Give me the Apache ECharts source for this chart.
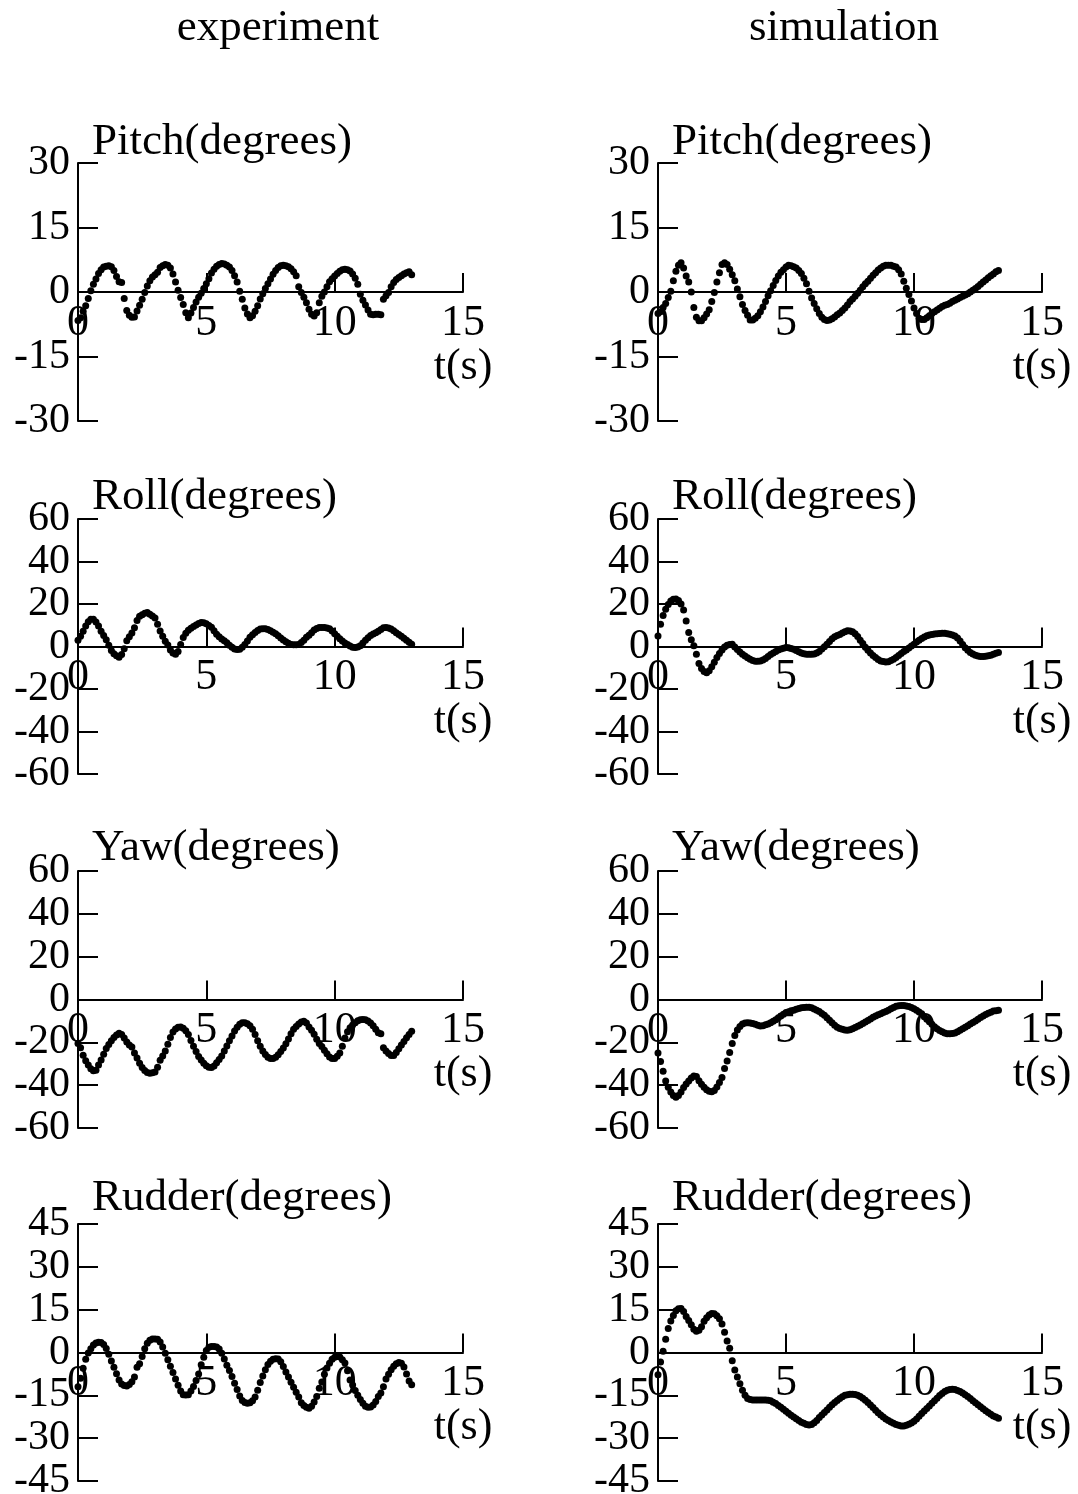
<!DOCTYPE html>
<html>
<head>
<meta charset="utf-8">
<script src="https://cdn.jsdelivr.net/npm/echarts@6/dist/echarts.min.js"></script>
<style>
  html, body { margin: 0; padding: 0; background: #ffffff; }
  #chart { width: 1078px; height: 1494px; }
</style>
</head>
<body>
<div id="chart"></div>
<script>
// Samples are recorded every SAMPLE_DT seconds, starting at t = 0.
const SAMPLE_DT = 0.1;

// ---- experiment (t = 0 .. 13.0 s) ----
const pitchExp = [
  -6.6, -6.0, -4.5, -3.2, -1.5, 0.3, 1.8, 3.0, 4.3, 5.2,
  5.8, 6.0, 6.1, 5.9, 5.0, 3.6, 2.4, 2.2, -1.5, -4.3,
  -5.4, -5.9, -5.8, -4.4, -3.1, -1.7, -0.1, 1.4, 2.6, 3.5,
  4.0, 4.6, 5.7, 6.1, 6.4, 6.2, 5.6, 4.2, 2.3, 0.4,
  -1.3, -2.9, -4.8, -6.0, -4.9, -3.6, -2.3, -1.2, -0.3, 0.8,
  1.9, 3.1, 4.4, 5.3, 6.0, 6.4, 6.6, 6.5, 6.2, 5.8,
  5.0, 3.8, 2.3, 0.2, -1.7, -3.7, -5.1, -6.0, -5.5, -4.5,
  -3.2, -1.6, -0.4, 0.8, 1.9, 3.0, 4.1, 5.0, 5.7, 6.1,
  6.2, 6.1, 5.9, 5.4, 4.7, 3.8, 1.2, -0.1, -1.2, -2.5,
  -4.0, -5.2, -5.6, -4.8, -2.5, -1.0, 0.0, 1.2, 2.4, 3.1,
  3.7, 4.3, 4.8, 5.2, 5.3, 5.2, 4.9, 4.2, 3.2, 1.8,
  -0.5, -1.9, -3.0, -4.2, -5.2, -5.3, -5.2, -5.2, -5.3, -1.7,
  -0.9, -0.1, 1.2, 2.2, 2.9, 3.4, 3.8, 4.2, 4.5, 4.7,
  4.0
];
const rollExp = [
  3.0, 4.8, 7.2, 9.6, 11.6, 12.8, 12.8, 11.5, 9.6, 7.2,
  5.2, 3.2, 0.6, -1.9, -3.4, -4.3, -5.0, -3.8, -1.0, 2.7,
  4.6, 6.3, 8.8, 12.2, 14.2, 15.0, 15.6, 16.0, 15.2, 14.3,
  13.4, 10.5, 7.3, 4.8, 2.5, 0.7, -1.6, -3.0, -3.6, -2.4,
  1.0, 4.2, 6.2, 7.6, 8.6, 9.4, 10.1, 10.8, 11.3, 11.2,
  10.7, 9.9, 9.1, 7.4, 5.8, 4.6, 3.5, 2.7, 1.8, 0.6,
  -0.4, -1.2, -1.4, -1.3, -0.3, 0.9, 2.6, 4.3, 5.5, 6.6,
  7.5, 8.2, 8.4, 8.3, 8.0, 7.4, 6.7, 6.0, 5.1, 4.0,
  3.1, 2.2, 1.5, 1.0, 0.8, 0.8, 1.0, 1.9, 3.0, 4.3,
  5.3, 6.5, 7.8, 8.5, 8.9, 9.0, 9.0, 8.7, 8.3, 7.3,
  6.0, 4.8, 3.6, 2.6, 1.7, 0.9, 0.2, -0.4, -0.5, -0.2,
  0.4, 1.7, 2.9, 4.1, 5.2, 5.9, 6.5, 7.2, 8.0, 8.8,
  9.0, 8.7, 8.2, 7.4, 6.5, 5.6, 4.8, 3.9, 3.0, 2.0,
  1.1
];
const yawExp = [
  -20.5, -22.5, -26.0, -28.6, -30.6, -32.3, -33.3, -33.0, -30.6, -28.2,
  -25.6, -22.9, -21.0, -19.3, -17.8, -16.6, -15.8, -16.3, -18.0, -19.9,
  -21.3, -22.2, -25.0, -27.3, -29.8, -31.8, -33.2, -34.1, -34.4, -34.2,
  -33.8, -31.6, -28.4, -26.4, -24.0, -20.9, -17.7, -15.2, -13.8, -13.0,
  -12.8, -13.4, -14.6, -16.3, -19.2, -21.8, -24.3, -26.6, -28.3, -29.8,
  -30.9, -31.6, -31.8, -31.0, -29.5, -28.0, -26.4, -24.0, -21.7, -19.3,
  -17.0, -14.7, -12.9, -11.6, -10.9, -10.8, -11.3, -12.3, -13.9, -16.3,
  -19.3, -21.8, -24.1, -25.7, -27.0, -27.6, -27.5, -27.0, -25.8, -24.3,
  -22.7, -20.7, -18.5, -16.0, -13.9, -12.6, -11.4, -10.5, -10.1, -11.0,
  -12.8, -14.4, -16.2, -18.6, -20.5, -22.0, -23.7, -25.3, -26.9, -27.5,
  -27.6, -26.5, -25.0, -21.8, -18.0, -15.0, -13.2, -11.9, -10.8, -9.9,
  -9.5, -9.3, -9.5, -10.0, -11.0, -12.3, -13.9, -15.5, -16.0, -22.5,
  -24.0, -25.2, -26.1, -26.2, -24.8, -23.0, -21.2, -19.6, -17.9, -16.3,
  -14.8
];
const rudderExp = [
  -12.0, -9.0, -5.5, -2.4, -0.2, 1.3, 2.6, 3.3, 3.6, 3.5,
  2.8, 1.4, -0.6, -3.0, -5.2, -7.4, -9.6, -11.0, -11.6, -11.7,
  -11.2, -10.2, -8.6, -5.2, -3.9, -1.4, 1.3, 3.2, 4.3, 4.7,
  4.7, 4.6, 3.7, 1.9, -0.3, -2.5, -4.8, -7.0, -9.3, -11.5,
  -13.5, -14.8, -14.9, -14.8, -13.5, -11.9, -9.8, -7.5, -4.3, -1.7,
  0.7, 1.8, 2.1, 2.1, 1.9, 1.2, -0.3, -2.3, -4.5, -6.3,
  -8.4, -10.8, -13.0, -15.2, -16.8, -17.5, -17.8, -17.6, -16.9, -15.6,
  -13.2, -10.5, -8.2, -6.0, -4.2, -3.1, -2.4, -2.2, -2.3, -3.2,
  -4.9, -6.8, -8.6, -10.4, -12.2, -13.9, -15.6, -17.6, -18.6, -19.2,
  -19.5, -18.8, -17.3, -15.4, -12.5, -10.3, -7.6, -5.4, -3.8, -2.4,
  -1.7, -1.4, -1.6, -2.5, -3.7, -6.4, -9.6, -11.4, -13.3, -15.0,
  -16.5, -17.8, -18.8, -19.2, -19.1, -18.4, -17.2, -15.4, -14.2, -12.0,
  -9.3, -7.6, -6.0, -4.8, -3.9, -3.5, -3.8, -5.1, -7.5, -10.0,
  -11.3
];

// ---- simulation (t = 0 .. 13.3 s) ----
const pitchSim = [
  -5.0, -4.6, -3.6, -2.7, -1.3, 0.2, 2.6, 4.8, 6.2, 6.8,
  5.6, 3.7, 2.3, 0.0, -3.6, -5.9, -6.7, -6.7, -6.0, -5.1,
  -4.1, -2.2, -0.1, 2.3, 4.5, 6.4, 6.8, 6.4, 5.3, 4.0,
  2.6, 0.7, -1.1, -2.9, -4.3, -5.4, -6.5, -6.5, -6.1, -5.5,
  -4.6, -3.5, -2.2, -0.9, 0.3, 1.5, 2.7, 3.7, 4.6, 5.2,
  5.8, 6.2, 6.1, 5.9, 5.6, 5.0, 4.3, 3.2, 1.9, 0.2,
  -1.4, -2.7, -3.9, -5.0, -5.9, -6.4, -6.6, -6.5, -6.2, -5.8,
  -5.3, -4.9, -4.3, -3.7, -3.0, -2.2, -1.6, -1.0, -0.3, 0.4,
  1.2, 1.9, 2.5, 3.2, 3.9, 4.5, 5.1, 5.6, 6.0, 6.2,
  6.2, 6.2, 6.0, 5.8, 5.2, 4.2, 2.5, 0.9, -0.6, -2.1,
  -3.7, -5.0, -6.1, -6.4, -6.4, -6.0, -5.5, -5.0, -4.6, -4.2,
  -3.8, -3.4, -3.1, -2.9, -2.6, -2.2, -1.9, -1.6, -1.3, -1.0,
  -0.7, -0.4, 0.0, 0.4, 0.8, 1.3, 1.8, 2.3, 2.8, 3.3,
  3.8, 4.2, 4.7, 5.0
];
const rollSim = [
  5.0, 10.5, 14.6, 17.5, 19.8, 21.4, 22.2, 22.4, 21.7, 20.0,
  17.2, 12.0, 6.6, 3.2, 0.3, -3.6, -8.0, -10.4, -11.8, -12.3,
  -11.4, -9.5, -7.4, -5.2, -3.3, -1.6, -0.2, 0.6, 1.0, 1.1,
  -0.2, -1.4, -2.6, -3.6, -4.5, -5.3, -6.0, -6.6, -6.9, -6.9,
  -6.8, -6.3, -5.6, -4.7, -3.8, -3.0, -2.3, -1.7, -1.2, -0.8,
  -0.5, -0.6, -0.9, -1.3, -1.9, -2.5, -3.0, -3.4, -3.6, -3.7,
  -3.7, -3.5, -3.0, -2.3, -1.2, -0.1, 1.1, 2.4, 3.6, 4.6,
  5.2, 5.7, 6.3, 7.0, 7.4, 7.3, 7.0, 6.0, 4.7, 3.0,
  1.4, -0.3, -1.8, -3.0, -4.2, -5.2, -6.1, -6.8, -7.1, -7.3,
  -7.2, -6.6, -6.0, -5.2, -4.2, -3.3, -2.4, -1.6, -0.7, 0.2,
  1.1, 2.1, 3.0, 3.8, 4.5, 5.1, 5.4, 5.7, 5.9, 6.0,
  6.1, 6.2, 6.2, 6.0, 5.8, 5.4, 4.9, 4.0, 2.6, 1.0,
  -0.6, -1.8, -2.8, -3.5, -4.1, -4.5, -4.7, -4.7, -4.6, -4.4,
  -4.1, -3.7, -3.2, -2.8
];
const yawSim = [
  -25.0, -29.0, -33.5, -38.0, -41.0, -43.2, -44.8, -45.7, -44.8, -43.2,
  -41.1, -39.4, -38.0, -36.6, -35.7, -36.0, -37.9, -39.6, -41.0, -42.1,
  -42.8, -43.1, -42.5, -40.9, -38.8, -36.4, -32.2, -28.7, -24.8, -20.5,
  -16.8, -14.2, -12.6, -11.4, -11.0, -10.9, -11.0, -11.2, -11.5, -12.0,
  -12.4, -12.2, -11.8, -11.4, -10.8, -10.2, -9.4, -8.5, -7.7, -6.9,
  -6.1, -5.7, -5.3, -5.0, -4.6, -4.2, -3.9, -3.7, -3.6, -3.6,
  -3.9, -4.4, -5.0, -5.6, -6.5, -7.4, -8.5, -9.7, -10.9, -12.0,
  -12.9, -13.5, -13.9, -14.2, -14.3, -14.1, -13.7, -13.1, -12.5, -11.9,
  -11.2, -10.5, -9.8, -9.1, -8.3, -7.7, -7.1, -6.6, -6.1, -5.6,
  -5.0, -4.3, -3.7, -3.2, -2.9, -2.8, -2.8, -3.0, -3.3, -3.7,
  -4.3, -5.0, -5.8, -6.7, -8.0, -9.2, -10.4, -11.6, -12.7, -13.6,
  -14.5, -15.1, -15.6, -16.0, -16.0, -15.9, -15.6, -15.0, -14.4, -13.7,
  -12.9, -12.2, -11.4, -10.7, -10.0, -9.2, -8.4, -7.7, -7.0, -6.4,
  -5.9, -5.4, -5.2, -5.0
];
const rudderSim = [
  -7.8, -3.3, 0.4, 4.6, 8.4, 11.0, 13.0, 14.6, 15.3, 15.4,
  14.4, 12.6, 11.2, 9.7, 8.1, 7.4, 7.8, 9.0, 10.9, 12.2,
  13.1, 13.7, 13.6, 12.9, 11.8, 10.0, 7.1, 4.0, 1.5, -2.9,
  -6.1, -8.6, -10.9, -13.2, -15.0, -16.1, -16.5, -16.6, -16.6, -16.6,
  -16.6, -16.6, -16.6, -16.7, -16.9, -17.4, -17.9, -18.6, -19.2, -19.9,
  -20.6, -21.3, -22.0, -22.6, -23.2, -23.8, -24.4, -24.8, -25.2, -25.4,
  -25.2, -24.6, -23.8, -22.8, -21.9, -21.0, -20.1, -19.2, -18.3, -17.5,
  -16.8, -16.1, -15.5, -15.0, -14.8, -14.6, -14.6, -14.7, -15.0, -15.4,
  -16.0, -16.7, -17.5, -18.4, -19.3, -20.2, -21.1, -21.9, -22.6, -23.3,
  -23.8, -24.3, -24.8, -25.2, -25.5, -25.7, -25.7, -25.5, -25.1, -24.7,
  -24.1, -23.3, -22.3, -21.4, -20.5, -19.6, -18.7, -17.8, -16.9, -16.0,
  -15.1, -14.4, -13.7, -13.2, -13.0, -12.9, -13.0, -13.3, -13.7, -14.2,
  -14.8, -15.4, -16.1, -16.9, -17.6, -18.3, -19.0, -19.7, -20.4, -21.0,
  -21.6, -22.2, -22.6, -23.0
];

// ---- labels and axis ticks ----
const columnTitles = ['experiment', 'simulation'];
const panelNames = ['Pitch(degrees)', 'Roll(degrees)', 'Yaw(degrees)', 'Rudder(degrees)'];
const timeTicks = [0, 15, 5];             // min, max, step (s)
const timeUnit = 't(s)';
const valueTicks = [                       // min, max, step per row
  [-30, 30, 15],
  [-60, 60, 20],
  [-60, 60, 20],
  [-45, 45, 15]
];
const seriesGrid = [
  [pitchExp, pitchSim],
  [rollExp, rollSim],
  [yawExp, yawSim],
  [rudderExp, rudderSim]
];

// ---- layout ----
const FONT_FAMILY = '"Liberation Serif", "Times New Roman", serif';
const TEXT_SIZE = 45;     // column titles and panel names
const X_TICK_SIZE = 44;   // time tick labels
const Y_TICK_SIZE = 42;   // value tick labels (kept below the tick spacing)
const colLeft = [78, 658];
const colWidth = [385, 384];
const titleCenterX = [278, 844];
const titleBaseline = 43;
const rowTop = [163, 519, 871, 1224];
const rowHeight = [258, 255, 257, 257];
const nameBaseline = [157, 512, 863, 1213];
const MIDDLE_TO_BASELINE = 15;

const ink = '#000000';
const grids = [], xAxes = [], yAxes = [], series = [];
const graphics = [];

for (let c = 0; c < 2; c++) {
  graphics.push({
    type: 'text', x: titleCenterX[c], y: titleBaseline - MIDDLE_TO_BASELINE,
    style: {
      text: columnTitles[c], fill: ink,
      font: TEXT_SIZE + 'px ' + FONT_FAMILY,
      align: 'center', verticalAlign: 'middle'
    }
  });
}

for (let r = 0; r < 4; r++) {
  const vt = valueTicks[r];
  // the time axis sits on the zero line of the value axis
  const zeroLift = rowHeight[r] * (0 - vt[0]) / (vt[1] - vt[0]);
  for (let c = 0; c < 2; c++) {
    const i = grids.length;
    grids.push({
      left: colLeft[c], top: rowTop[r], width: colWidth[c], height: rowHeight[r],
      containLabel: false, outerBoundsMode: 'none'
    });
    xAxes.push({
      type: 'value', gridIndex: i, position: 'bottom', offset: -zeroLift,
      min: timeTicks[0], max: timeTicks[1], interval: timeTicks[2],
      axisLine: { show: true, onZero: false, lineStyle: { color: ink, width: 2 } },
      axisTick: { show: true, inside: true, length: 19, lineStyle: { color: ink, width: 2 } },
      axisLabel: {
        margin: 9, color: ink, fontFamily: FONT_FAMILY, fontSize: X_TICK_SIZE, lineHeight: 44,
        showMinLabel: true, showMaxLabel: true, hideOverlap: false,
        formatter: v => (v === timeTicks[1] ? v + '\n' + timeUnit : String(v))
      },
      splitLine: { show: false }
    });
    yAxes.push({
      type: 'value', gridIndex: i, position: 'left',
      min: vt[0], max: vt[1], interval: vt[2],
      axisLine: { show: true, onZero: false, lineStyle: { color: ink, width: 2 } },
      axisTick: { show: true, inside: true, length: 20, lineStyle: { color: ink, width: 2 } },
      axisLabel: {
        margin: 8, color: ink, fontFamily: FONT_FAMILY, fontSize: Y_TICK_SIZE,
        showMinLabel: true, showMaxLabel: true, hideOverlap: false
      },
      splitLine: { show: false }
    });
    const values = seriesGrid[r][c];
    series.push({
      type: 'scatter', name: panelNames[r] + ' ' + columnTitles[c],
      xAxisIndex: i, yAxisIndex: i,
      data: values.map((v, k) => [Math.round(k * SAMPLE_DT * 100) / 100, v]),
      symbol: 'circle', symbolSize: 7,
      itemStyle: { color: ink, opacity: 1 },
      silent: true
    });
    graphics.push({
      type: 'text', x: colLeft[c] + 14, y: nameBaseline[r] - MIDDLE_TO_BASELINE,
      style: {
        text: panelNames[r], fill: ink,
        font: TEXT_SIZE + 'px ' + FONT_FAMILY,
        align: 'left', verticalAlign: 'middle'
      }
    });
  }
}

const chart = echarts.init(document.getElementById('chart'), null, { renderer: 'canvas' });
chart.setOption({
  backgroundColor: '#ffffff',
  animation: false,
  grid: grids,
  xAxis: xAxes,
  yAxis: yAxes,
  series: series,
  graphic: graphics
});
</script>
</body>
</html>
